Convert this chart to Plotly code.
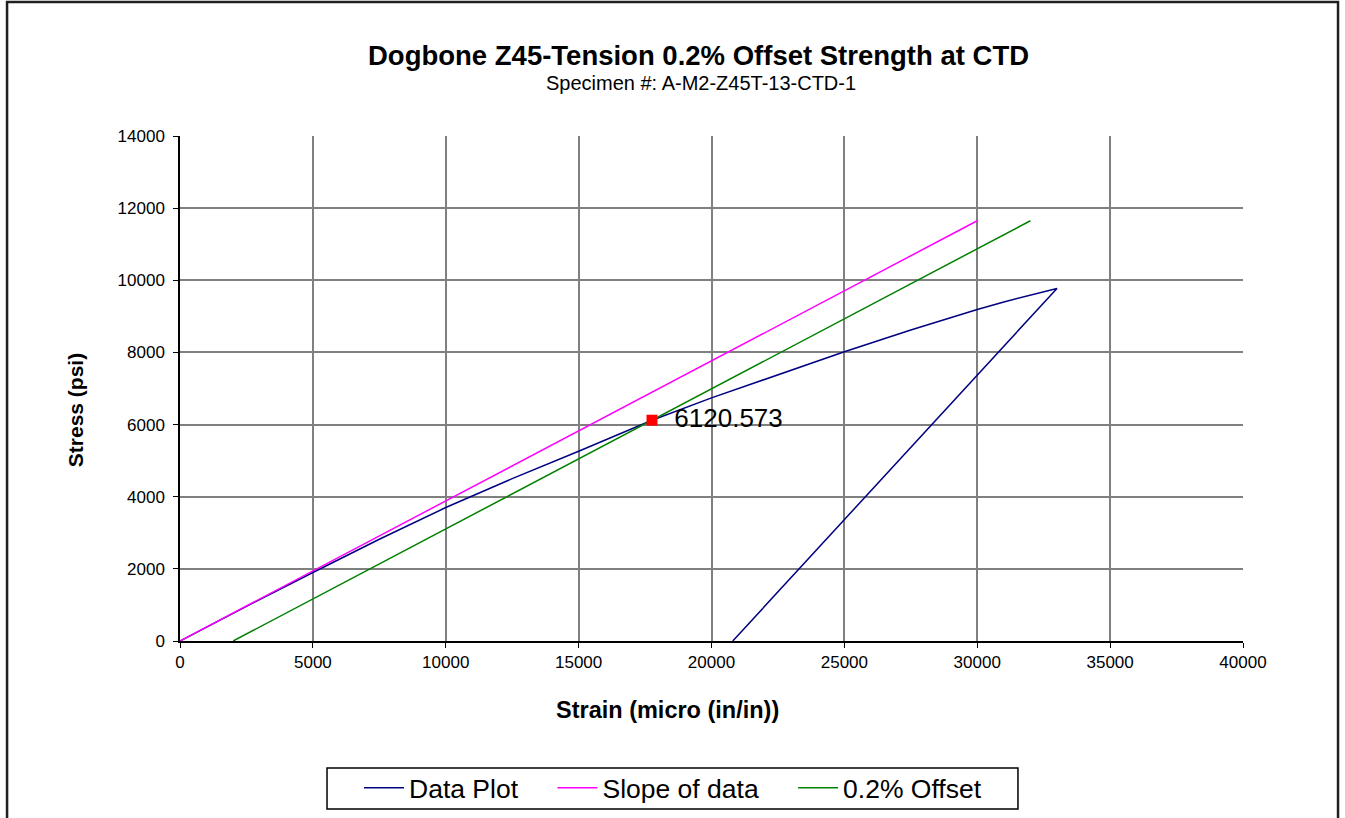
import plotly.graph_objects as go

# ---- data ----
strain_data = [0, 1000, 2500, 5000, 7500, 10000, 12500, 15000, 17761, 20000, 22500, 25000, 27500, 29000, 30000, 31000, 32000, 33000, 20800]
stress_data = [0, 390, 960, 1900, 2820, 3700, 4500, 5260, 6120.573, 6740, 7390, 8020, 8620, 8970, 9190, 9400, 9590, 9775, 0]

strain_slope = [0, 30000]
stress_slope = [0, 11650]

strain_offset = [2000, 32000]
stress_offset = [0, 11650]

yield_strain = [17761]
yield_stress = [6120.573]
yield_label = ["6120.573"]

series_names = ["Data Plot", "Slope of data", "0.2% Offset"]

x_ticks = [0, 5000, 10000, 15000, 20000, 25000, 30000, 35000, 40000]
y_ticks = [0, 2000, 4000, 6000, 8000, 10000, 12000, 14000]

FONT = "Liberation Sans, Arial, sans-serif"
PAD = "\u00a0\u00a0\u00a0\u00a0"

fig = go.Figure()
fig.add_trace(go.Scatter(x=strain_data, y=stress_data, mode="lines", name=series_names[0] + PAD,
                         line=dict(color="#000080", width=1.5)))
fig.add_trace(go.Scatter(x=strain_slope, y=stress_slope, mode="lines", name=series_names[1] + PAD,
                         line=dict(color="#FF00FF", width=1.5)))
fig.add_trace(go.Scatter(x=strain_offset, y=stress_offset, mode="lines", name=series_names[2],
                         line=dict(color="#008000", width=1.5)))
fig.add_trace(go.Scatter(x=yield_strain, y=yield_stress, mode="markers+text", showlegend=False,
                         marker=dict(symbol="square", color="#FF0000", size=11),
                         text=yield_label, texttemplate="  %{text}", textposition="middle right",
                         textfont=dict(size=26, color="black", family=FONT)))

fig.update_layout(
    width=1345, height=818,
    margin=dict(l=180, r=102, t=136, b=177, autoexpand=False),
    paper_bgcolor="white", plot_bgcolor="white",
    font=dict(family=FONT, color="black"),
    showlegend=True,
    legend=dict(orientation="h", x=0.1684, xanchor="left", y=-0.2436, yanchor="top",
                bgcolor="rgba(0,0,0,0)", borderwidth=0, font=dict(size=26.5, family=FONT),
                itemwidth=40, tracegroupgap=0),
    xaxis=dict(range=[0, 40000], tickvals=x_ticks, ticktext=[str(v) for v in x_ticks],
               showgrid=True, gridcolor="#808080", gridwidth=1.5,
               showline=True, linecolor="black", linewidth=1.5,
               ticks="outside", ticklen=5, tickcolor="black",
               tickfont=dict(size=17, family=FONT), zeroline=False, fixedrange=True),
    yaxis=dict(range=[0, 14000], tickvals=y_ticks, ticktext=[str(v) for v in y_ticks],
               showgrid=True, gridcolor="#808080", gridwidth=1.5,
               showline=True, linecolor="black", linewidth=1.5,
               ticks="outside", ticklen=5, tickcolor="black", ticklabelstandoff=5,
               tickfont=dict(size=17, family=FONT), zeroline=False, fixedrange=True),
    annotations=[
        dict(text="<b>Dogbone Z45-Tension 0.2% Offset Strength at CTD</b>", xref="paper", yref="paper",
             x=0.488, y=1.159, xanchor="center", yanchor="middle", showarrow=False,
             font=dict(size=27.5, family=FONT)),
        dict(text="Specimen #: A-M2-Z45T-13-CTD-1", xref="paper", yref="paper",
             x=0.490, y=1.104, xanchor="center", yanchor="middle", showarrow=False,
             font=dict(size=20, family=FONT)),
        dict(text="<b>Strain (micro (in/in))</b>", xref="paper", yref="paper",
             x=0.459, y=-0.1366, xanchor="center", yanchor="middle", showarrow=False,
             font=dict(size=23.5, family=FONT)),
        dict(text="<b>Stress (psi)</b>", xref="paper", yref="paper", textangle=-90,
             x=-0.0988, y=0.457, xanchor="center", yanchor="middle", showarrow=False,
             font=dict(size=21, family=FONT)),
    ],
    shapes=[
        dict(type="rect", xref="paper", yref="paper", x0=-0.1627, x1=1.0894, y0=-0.40, y1=1.2653,
             line=dict(color="#202020", width=2.5), fillcolor="rgba(0,0,0,0)", layer="above"),
        dict(type="rect", xref="paper", yref="paper", x0=0.1383, x1=0.7883, y0=-0.3327, y1=-0.2515,
             line=dict(color="black", width=1.5), fillcolor="rgba(0,0,0,0)", layer="above"),
    ],
)

fig.write_html("out.html", config={"displayModeBar": False})

# remove default browser body margin so the figure sits at the window origin
with open("out.html", "r", encoding="utf-8") as f:
    html = f.read()
html = html.replace("<head>", "<head><style>html,body{margin:0;padding:0;overflow:hidden;}</style>", 1)
with open("out.html", "w", encoding="utf-8") as f:
    f.write(html)
